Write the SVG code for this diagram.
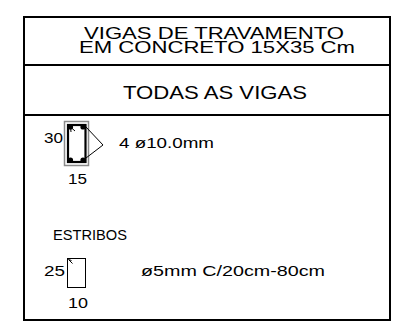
<svg xmlns="http://www.w3.org/2000/svg" width="398" height="328" viewBox="0 0 398 328">
<style>
.frame{fill:none;stroke:#000;stroke-width:2}
.t{font-family:"Liberation Sans",Arial,sans-serif;fill:#000}
.ttl{font-size:16.5px}
.sub{font-size:18px}
.mid{font-size:15.5px}
.gray{fill:none;stroke:#8a8a8a;stroke-width:1.5}
.bar{fill:none;stroke:#000;stroke-width:2.2}
.thin{fill:none;stroke:#000;stroke-width:1}
</style>
<rect width="398" height="328" fill="#fff"/>
<g id="frame">
<rect class="frame" x="24" y="17" width="366" height="303"/>
<line class="frame" x1="24" y1="65" x2="390" y2="65"/>
<line class="frame" x1="24" y1="115" x2="390" y2="115"/>
</g>
<g id="title">
<text class="t ttl" x="84" y="38.5" textLength="260" lengthAdjust="spacingAndGlyphs">VIGAS DE TRAVAMENTO</text>
<text class="t ttl" x="79" y="52.5" textLength="276" lengthAdjust="spacingAndGlyphs">EM CONCRETO 15X35 Cm</text>
</g>
<g id="subtitle">
<text class="t sub" x="123" y="99" textLength="184" lengthAdjust="spacingAndGlyphs">TODAS AS VIGAS</text>
</g>
<g id="beam-section">
<rect class="gray" x="64.5" y="121.5" width="24" height="44"/>
<rect class="bar" x="68" y="125" width="17.5" height="37"/>
<circle cx="70.5" cy="127" r="2.6"/>
<circle cx="83" cy="127" r="2.6"/>
<circle cx="70.5" cy="160" r="2.6"/>
<circle cx="83" cy="160" r="2.6"/>
<polyline class="thin" points="75,131 70.5,127 71,132"/>
<polyline class="thin" points="86,127 103,145 86,158"/>
<text class="t mid" x="44" y="143" textLength="19" lengthAdjust="spacingAndGlyphs">30</text>
<text class="t mid" x="68" y="184" textLength="19" lengthAdjust="spacingAndGlyphs">15</text>
<text class="t mid" x="119" y="148" textLength="95" lengthAdjust="spacingAndGlyphs">4  ø10.0mm</text>
</g>
<g id="stirrup">
<text class="t mid" x="53" y="240" textLength="74" lengthAdjust="spacingAndGlyphs">ESTRIBOS</text>
<rect class="thin" x="67.5" y="258.5" width="18" height="29" stroke-width="1.3"/>
<polyline class="thin" points="68.5,259.5 72.5,263.5"/>
<polyline class="thin" points="68.5,259.5 71.5,260.5"/>
<text class="t mid" x="44" y="276" textLength="21" lengthAdjust="spacingAndGlyphs">25</text>
<text class="t mid" x="68" y="308" textLength="20" lengthAdjust="spacingAndGlyphs">10</text>
<text class="t mid" x="141" y="276" textLength="184" lengthAdjust="spacingAndGlyphs">ø5mm  C/20cm-80cm</text>
</g>
</svg>
